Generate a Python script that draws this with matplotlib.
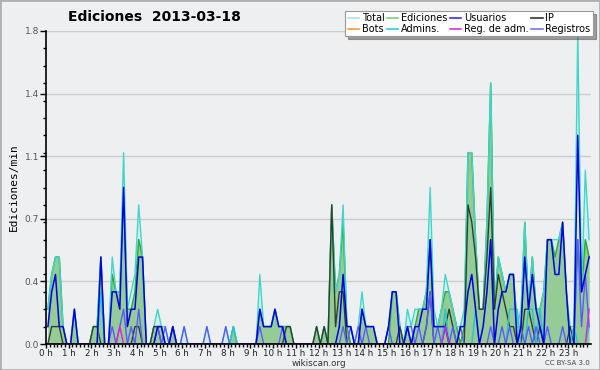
import matplotlib
matplotlib.use("Agg")
import matplotlib.pyplot as plt
import numpy as np
from matplotlib.lines import Line2D
from matplotlib.patches import Rectangle

# edits per minute, one value per 10-minute slot (two hours per line)
total = [0.2, 0.4, 0.5, 0.5, 0.1, 0.0, 0.0, 0.2, 0.0, 0.0, 0.0, 0.0,
         0.1, 0.1, 0.5, 0.0, 0.0, 0.5, 0.3, 0.3, 1.1, 0.2, 0.3, 0.4,
         0.8, 0.5, 0.0, 0.0, 0.1, 0.2, 0.1, 0.1, 0.0, 0.1, 0.0, 0.0,
         0.1, 0.0, 0.0, 0.0, 0.0, 0.0, 0.1, 0.0, 0.0, 0.0, 0.0, 0.1,
         0.0, 0.1, 0.0, 0.0, 0.0, 0.0, 0.0, 0.0, 0.4, 0.1, 0.1, 0.1,
         0.2, 0.1, 0.1, 0.1, 0.1, 0.0, 0.0, 0.0, 0.0, 0.0, 0.0, 0.1,
         0.0, 0.1, 0.0, 0.8, 0.3, 0.4, 0.8, 0.1, 0.1, 0.0, 0.1, 0.3,
         0.1, 0.1, 0.1, 0.0, 0.0, 0.0, 0.1, 0.3, 0.3, 0.1, 0.0, 0.2,
         0.1, 0.2, 0.2, 0.2, 0.3, 0.9, 0.2, 0.1, 0.2, 0.4, 0.3, 0.2,
         0.1, 0.1, 0.2, 1.1, 1.1, 0.6, 0.2, 0.2, 0.7, 1.5, 0.2, 0.5,
         0.4, 0.3, 0.4, 0.4, 0.1, 0.2, 0.7, 0.2, 0.5, 0.2, 0.2, 0.3,
         0.6, 0.6, 0.6, 0.6, 0.7, 0.3, 0.1, 0.1, 1.8, 0.3, 1.0, 0.6]
ediciones = [0.2, 0.4, 0.5, 0.5, 0.1, 0.0, 0.0, 0.2, 0.0, 0.0, 0.0, 0.0,
             0.1, 0.1, 0.5, 0.0, 0.0, 0.4, 0.3, 0.3, 0.9, 0.2, 0.2, 0.3,
             0.6, 0.5, 0.0, 0.0, 0.1, 0.1, 0.1, 0.0, 0.0, 0.1, 0.0, 0.0,
             0.0, 0.0, 0.0, 0.0, 0.0, 0.0, 0.0, 0.0, 0.0, 0.0, 0.0, 0.0,
             0.0, 0.1, 0.0, 0.0, 0.0, 0.0, 0.0, 0.0, 0.2, 0.1, 0.1, 0.1,
             0.2, 0.1, 0.1, 0.1, 0.1, 0.0, 0.0, 0.0, 0.0, 0.0, 0.0, 0.1,
             0.0, 0.1, 0.0, 0.8, 0.3, 0.4, 0.7, 0.1, 0.0, 0.0, 0.0, 0.2,
             0.1, 0.1, 0.1, 0.0, 0.0, 0.0, 0.0, 0.3, 0.3, 0.1, 0.0, 0.1,
             0.0, 0.1, 0.2, 0.2, 0.3, 0.6, 0.1, 0.1, 0.2, 0.3, 0.3, 0.2,
             0.1, 0.0, 0.1, 1.1, 1.1, 0.6, 0.2, 0.2, 0.7, 1.5, 0.2, 0.5,
             0.4, 0.3, 0.4, 0.4, 0.1, 0.1, 0.7, 0.2, 0.5, 0.2, 0.2, 0.3,
             0.6, 0.6, 0.5, 0.6, 0.7, 0.3, 0.0, 0.1, 0.6, 0.3, 0.6, 0.5]
usuarios = [0.1, 0.3, 0.4, 0.1, 0.1, 0.0, 0.0, 0.2, 0.0, 0.0, 0.0, 0.0,
            0.0, 0.0, 0.5, 0.0, 0.0, 0.3, 0.3, 0.2, 0.9, 0.1, 0.2, 0.2,
            0.5, 0.5, 0.0, 0.0, 0.0, 0.1, 0.1, 0.0, 0.0, 0.1, 0.0, 0.0,
            0.0, 0.0, 0.0, 0.0, 0.0, 0.0, 0.0, 0.0, 0.0, 0.0, 0.0, 0.0,
            0.0, 0.0, 0.0, 0.0, 0.0, 0.0, 0.0, 0.0, 0.2, 0.1, 0.1, 0.1,
            0.2, 0.1, 0.1, 0.0, 0.0, 0.0, 0.0, 0.0, 0.0, 0.0, 0.0, 0.0,
            0.0, 0.0, 0.0, 0.0, 0.0, 0.1, 0.4, 0.1, 0.1, 0.0, 0.0, 0.2,
            0.1, 0.1, 0.1, 0.0, 0.0, 0.0, 0.1, 0.3, 0.3, 0.0, 0.0, 0.1,
            0.0, 0.1, 0.1, 0.2, 0.2, 0.6, 0.1, 0.1, 0.1, 0.1, 0.0, 0.0,
            0.0, 0.1, 0.1, 0.3, 0.4, 0.2, 0.0, 0.1, 0.3, 0.6, 0.0, 0.2,
            0.3, 0.3, 0.4, 0.4, 0.0, 0.1, 0.5, 0.2, 0.4, 0.2, 0.1, 0.0,
            0.6, 0.6, 0.4, 0.4, 0.7, 0.3, 0.0, 0.0, 1.2, 0.3, 0.4, 0.5]
ip = [0.0, 0.1, 0.1, 0.1, 0.0, 0.0, 0.0, 0.0, 0.0, 0.0, 0.0, 0.0,
      0.1, 0.1, 0.0, 0.0, 0.0, 0.0, 0.0, 0.0, 0.0, 0.0, 0.0, 0.1,
      0.1, 0.0, 0.0, 0.0, 0.1, 0.1, 0.0, 0.0, 0.0, 0.0, 0.0, 0.0,
      0.0, 0.0, 0.0, 0.0, 0.0, 0.0, 0.0, 0.0, 0.0, 0.0, 0.0, 0.0,
      0.0, 0.0, 0.0, 0.0, 0.0, 0.0, 0.0, 0.0, 0.0, 0.0, 0.0, 0.0,
      0.0, 0.0, 0.0, 0.1, 0.1, 0.0, 0.0, 0.0, 0.0, 0.0, 0.0, 0.1,
      0.0, 0.1, 0.0, 0.8, 0.1, 0.3, 0.3, 0.0, 0.0, 0.0, 0.0, 0.0,
      0.0, 0.0, 0.0, 0.0, 0.0, 0.0, 0.0, 0.0, 0.0, 0.1, 0.0, 0.0,
      0.0, 0.0, 0.0, 0.0, 0.1, 0.3, 0.0, 0.0, 0.0, 0.1, 0.2, 0.1,
      0.0, 0.0, 0.0, 0.8, 0.7, 0.5, 0.2, 0.2, 0.5, 0.9, 0.2, 0.4,
      0.3, 0.2, 0.1, 0.1, 0.0, 0.0, 0.2, 0.2, 0.1, 0.0, 0.1, 0.0,
      0.0, 0.0, 0.0, 0.0, 0.0, 0.0, 0.1, 0.0, 0.0, 0.0, 0.0, 0.0]
registros = [0.0, 0.0, 0.0, 0.0, 0.0, 0.0, 0.0, 0.0, 0.0, 0.0, 0.0, 0.0,
             0.0, 0.0, 0.0, 0.0, 0.0, 0.1, 0.0, 0.1, 0.2, 0.0, 0.1, 0.0,
             0.2, 0.0, 0.0, 0.0, 0.0, 0.1, 0.0, 0.1, 0.0, 0.1, 0.0, 0.0,
             0.1, 0.0, 0.0, 0.0, 0.0, 0.0, 0.1, 0.0, 0.0, 0.0, 0.0, 0.1,
             0.0, 0.0, 0.0, 0.0, 0.0, 0.0, 0.0, 0.0, 0.1, 0.0, 0.0, 0.0,
             0.0, 0.0, 0.1, 0.0, 0.0, 0.0, 0.0, 0.0, 0.0, 0.0, 0.0, 0.0,
             0.0, 0.0, 0.0, 0.0, 0.0, 0.0, 0.1, 0.0, 0.1, 0.0, 0.1, 0.0,
             0.1, 0.0, 0.0, 0.0, 0.0, 0.0, 0.1, 0.0, 0.0, 0.0, 0.0, 0.1,
             0.1, 0.0, 0.1, 0.0, 0.1, 0.3, 0.0, 0.1, 0.0, 0.0, 0.0, 0.1,
             0.0, 0.1, 0.0, 0.0, 0.0, 0.0, 0.0, 0.0, 0.0, 0.1, 0.0, 0.0,
             0.1, 0.0, 0.1, 0.0, 0.0, 0.1, 0.0, 0.1, 0.0, 0.1, 0.0, 0.0,
             0.1, 0.0, 0.0, 0.0, 0.1, 0.0, 0.0, 0.0, 0.6, 0.1, 0.4, 0.1]
admins = [0.0, 0.0, 0.0, 0.0, 0.0, 0.0, 0.0, 0.0, 0.0, 0.0, 0.0, 0.0,
          0.0, 0.0, 0.3, 0.0, 0.0, 0.0, 0.0, 0.0, 0.0, 0.0, 0.0, 0.0,
          0.0, 0.0, 0.0, 0.0, 0.0, 0.0, 0.0, 0.0, 0.0, 0.0, 0.0, 0.0,
          0.0, 0.0, 0.0, 0.0, 0.0, 0.0, 0.0, 0.0, 0.0, 0.0, 0.0, 0.0,
          0.0, 0.1, 0.0, 0.0, 0.0, 0.0, 0.0, 0.0, 0.0, 0.0, 0.0, 0.0,
          0.0, 0.0, 0.0, 0.0, 0.0, 0.0, 0.0, 0.0, 0.0, 0.0, 0.0, 0.0,
          0.0, 0.0, 0.0, 0.0, 0.0, 0.0, 0.0, 0.0, 0.0, 0.0, 0.0, 0.0,
          0.0, 0.0, 0.0, 0.0, 0.0, 0.0, 0.0, 0.0, 0.0, 0.0, 0.0, 0.0,
          0.0, 0.0, 0.0, 0.0, 0.0, 0.0, 0.0, 0.0, 0.0, 0.2, 0.0, 0.0,
          0.0, 0.0, 0.0, 0.0, 0.0, 0.2, 0.0, 0.0, 0.0, 0.0, 0.0, 0.0,
          0.0, 0.0, 0.2, 0.2, 0.2, 0.0, 0.0, 0.2, 0.2, 0.0, 0.2, 0.0,
          0.0, 0.0, 0.0, 0.0, 0.0, 0.0, 0.0, 0.1, 0.0, 0.0, 0.0, 0.1]
reg_adm = [0.0, 0.0, 0.0, 0.0, 0.0, 0.0, 0.0, 0.0, 0.0, 0.0, 0.0, 0.0,
           0.0, 0.0, 0.0, 0.0, 0.0, 0.0, 0.0, 0.1, 0.0, 0.0, 0.0, 0.0,
           0.0, 0.0, 0.0, 0.0, 0.0, 0.0, 0.0, 0.0, 0.0, 0.0, 0.0, 0.0,
           0.0, 0.0, 0.0, 0.0, 0.0, 0.0, 0.0, 0.0, 0.0, 0.0, 0.0, 0.0,
           0.0, 0.0, 0.0, 0.0, 0.0, 0.0, 0.0, 0.0, 0.0, 0.0, 0.0, 0.0,
           0.0, 0.0, 0.0, 0.0, 0.0, 0.0, 0.0, 0.0, 0.0, 0.0, 0.0, 0.0,
           0.0, 0.0, 0.0, 0.0, 0.0, 0.0, 0.0, 0.0, 0.0, 0.0, 0.0, 0.0,
           0.0, 0.0, 0.0, 0.0, 0.0, 0.0, 0.0, 0.0, 0.0, 0.0, 0.0, 0.0,
           0.0, 0.0, 0.0, 0.0, 0.0, 0.0, 0.0, 0.0, 0.0, 0.1, 0.0, 0.0,
           0.0, 0.0, 0.0, 0.0, 0.0, 0.0, 0.0, 0.0, 0.0, 0.0, 0.0, 0.0,
           0.0, 0.0, 0.0, 0.0, 0.0, 0.0, 0.0, 0.0, 0.0, 0.0, 0.0, 0.0,
           0.0, 0.0, 0.0, 0.0, 0.0, 0.0, 0.0, 0.0, 0.0, 0.0, 0.0, 0.2]

hour_labels = [f"{h} h" for h in range(24)]
ytick_values = [0.0, 0.36, 0.72, 1.08, 1.44, 1.8]
ytick_labels = ["0.0", "0.4", "0.7", "1.1", "1.4", "1.8"]

legend_labels = ["Total", "Bots", "Ediciones", "Admins.",
                 "Usuarios", "Reg. de adm.", "IP", "Registros"]
legend_colors = ["#a8e4e4", "#ff9a33", "#7fd07f", "#33cccc",
                 "#3333dd", "#dd33dd", "#333333", "#7777ff"]

BG = "#eeeff1"
x = (np.arange(len(total)) + 0.5) / 6

fig = plt.figure(figsize=(6, 3.7), dpi=100, facecolor=BG)
ax = fig.add_axes([46 / 600, 1 - 344 / 370, 545 / 600, 313 / 370])
ax.set_facecolor(BG)

ax.fill_between(x, total, color="#d2eeee", lw=0, zorder=1)
ax.fill_between(x, ediciones, color="#95cb95", lw=0, zorder=2)
ax.plot(x, ediciones, color="#33aa33", lw=1.1, zorder=3)
ax.plot(x, total, color="#3fd6cc", lw=1.0, zorder=4)
ax.plot(x, ip, color="#2f3f2f", lw=1.0, zorder=5)
ax.plot(x, admins, color="#22c4d4", lw=1.0, zorder=5)
ax.plot(x, registros, color="#5a5aff", lw=1.0, zorder=6)
ax.plot(x, usuarios, color="#0000e0", lw=1.1, zorder=7)
ax.plot(x, reg_adm, color="#dd22dd", lw=1.0, zorder=7)

ax.set_xlim(0, 24)
ax.set_ylim(0, 1.8)
ax.set_xticks(np.arange(24))
ax.set_xticklabels(hour_labels, fontsize=6.3, color="#222222")
ax.set_xticks(np.arange(0, 24, 1 / 6), minor=True)
ax.set_yticks(ytick_values)
ax.set_yticklabels(ytick_labels, fontsize=6.5, color="#555555")
ax.set_yticks(np.arange(0, 1.81, 0.1), minor=True)
ax.tick_params(axis="x", which="major", length=3, width=1, pad=0.3)
ax.tick_params(axis="x", which="minor", length=2.2, width=1)
ax.tick_params(axis="y", which="major", length=4, width=1, pad=1)
ax.tick_params(axis="y", which="minor", length=2.5, width=1)
ax.yaxis.grid(True, color="#cccccc", lw=1)
ax.set_axisbelow(True)
for side in ("top", "right"):
    ax.spines[side].set_visible(False)
for side in ("left", "bottom"):
    ax.spines[side].set_linewidth(1.2)
    ax.spines[side].set_zorder(10)

ax.set_ylabel("Ediciones/min", fontsize=8, family="DejaVu Sans Mono", labelpad=4)
fig.text(154 / 600, 1 - 17 / 370, "Ediciones  2013-03-18", fontsize=10,
         fontweight="bold", ha="center", va="center")
fig.text(319 / 600, 1 - 364 / 370, "wikiscan.org", fontsize=6.3,
         ha="center", va="center", color="#333333")
fig.text(590 / 600, 1 - 363 / 370, "CC BY-SA 3.0", fontsize=5,
         ha="right", va="center", color="#444444")

handles = [Line2D([], [], color=c, lw=1.2) for c in legend_colors]
leg = fig.legend(handles, legend_labels, ncol=4, loc="upper right",
                 bbox_to_anchor=(593 / 600, 1 - 11 / 370), fontsize=7,
                 frameon=True, fancybox=False, shadow=True, framealpha=1,
                 edgecolor="#999999", handlelength=1.2, handletextpad=0.3,
                 columnspacing=0.2, labelspacing=0.05, borderpad=0.25,
                 borderaxespad=0)
leg.get_frame().set_linewidth(0.8)

fig.patches.append(Rectangle((0, 0), 1, 1, transform=fig.transFigure,
                             fill=False, edgecolor="#b0b0b0", lw=2))

fig.savefig("out.png", dpi=100, facecolor=BG)
